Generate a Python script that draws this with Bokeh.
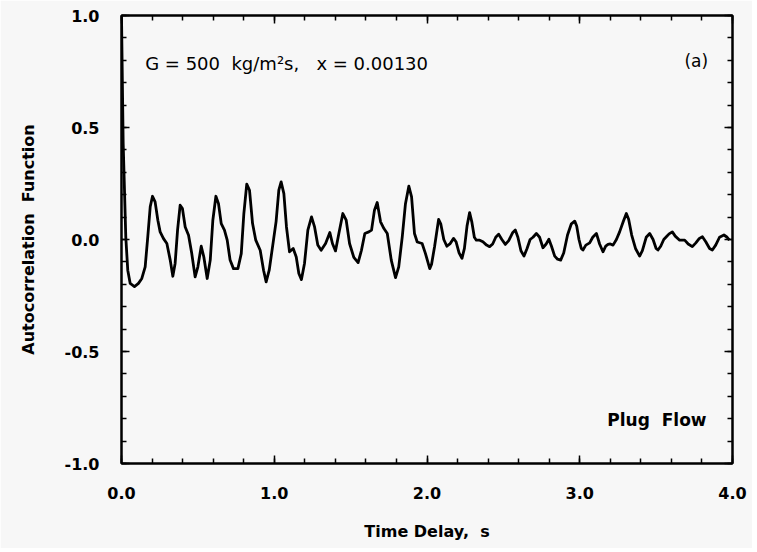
from bokeh.plotting import figure
from bokeh.models import (LinearAxis, Range1d, NumeralTickFormatter, SingleIntervalTicker,
                          Label, CustomJSTickFormatter)
from bokeh.embed import file_html
from bokeh.resources import INLINE

# Time delay (s) and autocorrelation values
time_delay = [0.000, 0.011, 0.028, 0.041, 0.057, 0.085, 0.111, 0.133, 0.155, 0.172,
              0.188, 0.203, 0.220, 0.238, 0.253, 0.275, 0.297, 0.319, 0.336, 0.351,
              0.367, 0.384, 0.399, 0.417, 0.439, 0.460, 0.482, 0.500, 0.522, 0.539,
              0.561, 0.581, 0.598, 0.618, 0.635, 0.653, 0.674, 0.692, 0.711, 0.733,
              0.762, 0.784, 0.801, 0.820, 0.838, 0.858, 0.879, 0.908, 0.930, 0.947,
              0.967, 0.995, 1.012, 1.030, 1.045, 1.063, 1.080, 1.100, 1.124, 1.144,
              1.161, 1.178, 1.198, 1.220, 1.244, 1.264, 1.285, 1.307, 1.336, 1.364,
              1.381, 1.401, 1.423, 1.449, 1.471, 1.493, 1.521, 1.549, 1.571, 1.593,
              1.619, 1.637, 1.656, 1.674, 1.696, 1.718, 1.740, 1.766, 1.794, 1.815,
              1.838, 1.859, 1.881, 1.899, 1.918, 1.936, 1.968, 1.990, 2.018, 2.030,
              2.050, 2.076, 2.090, 2.110, 2.130, 2.150, 2.174, 2.190, 2.210, 2.229,
              2.245, 2.262, 2.279, 2.293, 2.310, 2.323, 2.345, 2.366, 2.390, 2.410,
              2.430, 2.450, 2.469, 2.490, 2.513, 2.535, 2.560, 2.578, 2.595, 2.615,
              2.635, 2.655, 2.675, 2.694, 2.716, 2.737, 2.759, 2.780, 2.798, 2.815,
              2.836, 2.855, 2.875, 2.895, 2.920, 2.945, 2.967, 2.980, 2.995, 3.010,
              3.021, 3.040, 3.065, 3.085, 3.109, 3.130, 3.152, 3.170, 3.185, 3.200,
              3.218, 3.240, 3.261, 3.285, 3.305, 3.320, 3.340, 3.365, 3.392, 3.410,
              3.435, 3.458, 3.480, 3.500, 3.512, 3.530, 3.550, 3.567, 3.585, 3.606,
              3.625, 3.654, 3.687, 3.710, 3.737, 3.760, 3.783, 3.803, 3.825, 3.850,
              3.868, 3.890, 3.915, 3.944, 3.965, 3.980]
autocorr = [1.000, 0.430, 0.012, -0.137, -0.196, -0.210, -0.196, -0.174, -0.122, 0.012,
            0.146, 0.193, 0.168, 0.086, 0.034, 0.004, -0.018, -0.092, -0.164, -0.107,
            0.042, 0.153, 0.138, 0.056, 0.019, -0.063, -0.167, -0.122, -0.030, -0.078,
            -0.174, -0.092, 0.086, 0.193, 0.160, 0.071, 0.042, -0.003, -0.092, -0.130,
            -0.130, -0.063, 0.116, 0.247, 0.220, 0.071, -0.003, -0.048, -0.137, -0.189,
            -0.137, -0.003, 0.080, 0.220, 0.257, 0.205, 0.056, -0.055, -0.040, -0.078,
            -0.152, -0.179, -0.107, 0.042, 0.101, 0.056, -0.025, -0.048, -0.018, 0.031,
            -0.018, -0.051, 0.027, 0.116, 0.086, -0.018, -0.080, -0.103, -0.048, 0.027,
            0.034, 0.042, 0.131, 0.165, 0.079, 0.049, 0.027, -0.092, -0.170, -0.122,
            0.012, 0.160, 0.238, 0.190, 0.027, -0.011, -0.018, -0.063, -0.130, -0.110,
            -0.030, 0.090, 0.070, 0.000, -0.030, -0.020, 0.005, -0.010, -0.060, -0.084,
            -0.040, 0.060, 0.120, 0.080, 0.010, -0.003, -0.003, -0.010, -0.025, -0.032,
            -0.020, 0.010, 0.024, 0.000, -0.022, -0.005, 0.030, 0.042, 0.010, -0.050,
            -0.074, -0.040, 0.000, 0.010, 0.027, 0.010, -0.037, -0.020, 0.001, -0.030,
            -0.074, -0.088, -0.092, -0.060, 0.020, 0.070, 0.082, 0.060, 0.000, -0.040,
            -0.047, -0.025, -0.015, 0.010, 0.027, -0.020, -0.055, -0.030, -0.022, -0.020,
            -0.025, 0.000, 0.034, 0.080, 0.116, 0.090, 0.020, -0.040, -0.074, -0.050,
            0.010, 0.027, 0.000, -0.040, -0.047, -0.030, 0.000, 0.012, 0.025, 0.034,
            0.015, -0.003, -0.003, -0.020, -0.032, -0.015, 0.005, 0.012, -0.010, -0.040,
            -0.047, -0.025, 0.010, 0.020, 0.010, -0.003]

x_tick_interval = 1.0
y_tick_interval = 0.5

BG = "#f7f7f7"
FONT = "DejaVu Sans"
NB = "\u00a0"

p = figure(width=752, height=548, output_backend="svg", toolbar_location=None,
           x_range=Range1d(0, 4), y_range=Range1d(-1, 1),
           min_border_left=121, min_border_right=20, min_border_top=15, min_border_bottom=85,
           background_fill_color=BG, border_fill_color=BG, outline_line_color="black",
           outline_line_width=2)
p.xgrid.visible = False
p.ygrid.visible = False
p.xaxis.visible = False
p.yaxis.visible = False

p.line(time_delay, autocorr, line_color="black", line_width=2.8, line_join="round")


def style(axis, show_labels):
    axis.axis_line_color = "black"
    axis.axis_line_width = 2
    axis.major_tick_in = 8
    axis.major_tick_out = 0
    axis.minor_tick_in = 5
    axis.minor_tick_out = 0
    axis.major_tick_line_width = 1.5
    axis.minor_tick_line_width = 1.5
    axis.major_tick_line_color = "black"
    axis.minor_tick_line_color = "black"
    axis.major_label_text_font = FONT
    axis.major_label_text_font_style = "bold"
    axis.major_label_text_font_size = "16px"
    axis.major_label_text_color = "black"
    axis.axis_label_text_font = FONT
    axis.axis_label_text_font_style = "bold"
    axis.axis_label_text_font_size = "16px"
    axis.axis_label_text_color = "black"
    if not show_labels:
        axis.formatter = CustomJSTickFormatter(code="return ''")


xb = LinearAxis(ticker=SingleIntervalTicker(interval=x_tick_interval, num_minor_ticks=5),
                formatter=NumeralTickFormatter(format="0.0"),
                axis_label="Time" + NB + "Delay," + NB + NB + "s")
style(xb, True)
xb.major_label_standoff = 23
xb.axis_label_standoff = 20
p.add_layout(xb, "below")

xt = LinearAxis(ticker=SingleIntervalTicker(interval=x_tick_interval, num_minor_ticks=5))
style(xt, False)
p.add_layout(xt, "above")

yl = LinearAxis(ticker=SingleIntervalTicker(interval=y_tick_interval, num_minor_ticks=5),
                formatter=NumeralTickFormatter(format="0.0"),
                axis_label="Autocorrelation" + NB + NB + "Function")
style(yl, True)
yl.major_label_standoff = 22
yl.axis_label_standoff = 24
p.add_layout(yl, "left")

yr = LinearAxis(ticker=SingleIntervalTicker(interval=y_tick_interval, num_minor_ticks=5))
style(yr, False)
p.add_layout(yr, "right")

annot = ("G" + NB + "=" + NB + "500" + NB + NB + "kg/m²s," + NB + NB + NB
         + "x" + NB + "=" + NB + "0.00130")
p.add_layout(Label(x=0.155, y=0.785, text=annot,
                   text_font=FONT, text_font_size="18px", text_color="black",
                   text_baseline="middle", text_align="left"))
p.add_layout(Label(x=3.84, y=0.795, text="(a)", text_font=FONT, text_font_size="17px",
                   text_color="black", text_baseline="middle", text_align="right"))
p.add_layout(Label(x=3.83, y=-0.805, text="Plug" + NB + NB + "Flow", text_font=FONT,
                   text_font_size="17px", text_font_style="bold", text_color="black",
                   text_baseline="middle", text_align="right"))

open("out.html", "w").write(file_html(p, INLINE))
